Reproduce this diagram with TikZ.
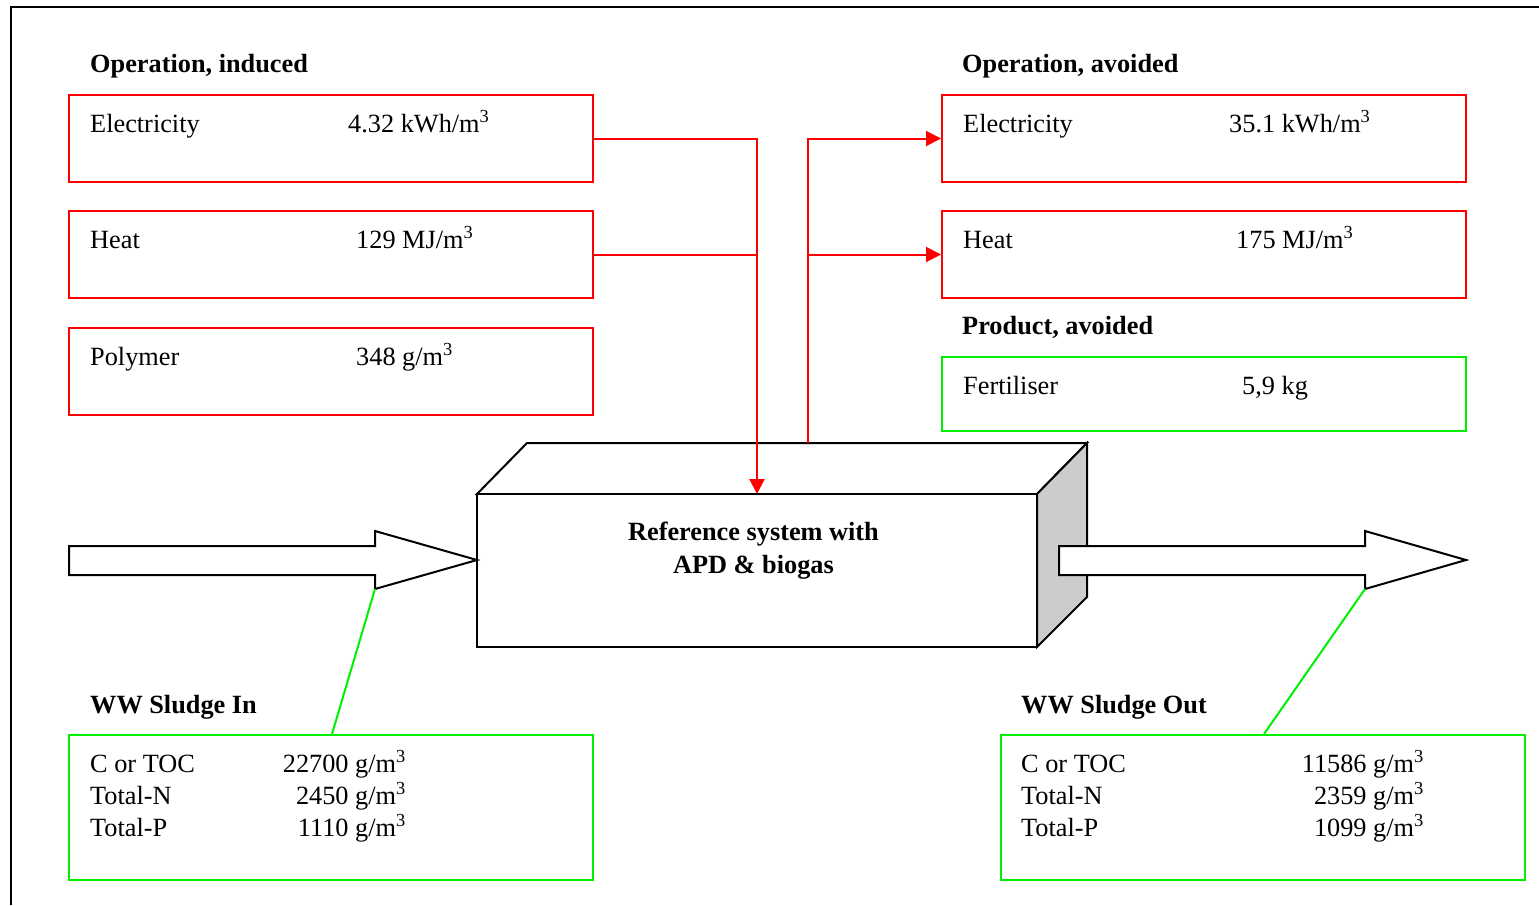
\documentclass[tikz,border=0pt]{standalone}
\usepackage{fontspec}
\setmainfont{Liberation Serif}
\usetikzlibrary{arrows.meta}
\definecolor{pred}{RGB}{255,0,0}
\definecolor{pgreen}{RGB}{0,240,0}
\definecolor{sidegray}{RGB}{204,204,204}
\tikzset{
  txt/.style={font=\fontsize{26.3}{30}\selectfont, inner sep=0pt, anchor=base west},
  txtr/.style={txt, anchor=base east},
  head/.style={txt, font=\fontsize{26.3}{30}\selectfont\bfseries},
  redbox/.style={draw=pred, line width=2pt, minimum width=524pt, minimum height=87pt, inner sep=0pt},
  greenbox/.style={draw=pgreen, line width=2pt, inner sep=0pt},
  redline/.style={draw=pred, line width=2pt},
  redarrow/.style={redline, -{Triangle[length=15pt,width=15pt]}},
  greenline/.style={draw=pgreen, line width=2pt},
  blackline/.style={draw=black, line width=2pt, line join=miter},
}
\begin{document}
\begin{tikzpicture}[x=1pt,y=-1pt]
\useasboundingbox (0,0) rectangle (1539,905);
% outer frame
\draw[line width=2pt] (11,905) -- (11,7) -- (1539,7);

% headings
\node[head] (hInd) at (90,72) {Operation, induced};
\node[head] (hAvo) at (962,72) {Operation, avoided};
\node[head] (hProd) at (962,334) {Product, avoided};
\node[head] (hIn) at (90,713) {WW Sludge In};
\node[head] (hOut) at (1021,713) {WW Sludge Out};

% left red boxes
\node[redbox] (eli) at (331,138.5) {};
\node[redbox] (hei) at (331,254.5) {};
\node[redbox] (pol) at (331,371) {};
\node[txt] (eliL) at (90,132) {Electricity};
\node[txt] (eliV) at (348,132) {4.32 kWh/m\textsuperscript{3}};
\node[txt] (heiL) at (90,248) {Heat};
\node[txt] (heiV) at (356,248) {129 MJ/m\textsuperscript{3}};
\node[txt] (polL) at (90,365) {Polymer};
\node[txt] (polV) at (356,365) {348 g/m\textsuperscript{3}};

% right red boxes
\node[redbox] (elo) at (1204,138.5) {};
\node[redbox] (heo) at (1204,254.5) {};
\node[txt] (eloL) at (963,132) {Electricity};
\node[txt] (eloV) at (1229,132) {35.1 kWh/m\textsuperscript{3}};
\node[txt] (heoL) at (963,248) {Heat};
\node[txt] (heoV) at (1236,248) {175 MJ/m\textsuperscript{3}};

% fertiliser
\node[greenbox, minimum width=524pt, minimum height=74pt] (fer) at (1204,394) {};
\node[txt] (ferL) at (963,394) {Fertiliser};
\node[txt] (ferV) at (1242,394) {5,9 kg};

% sludge in box
\node[greenbox, minimum width=524pt, minimum height=145pt] (sin) at (331,807.5) {};
\node[txt] (sin1) at (90,772) {C or TOC};
\node[txt] (sin2) at (90,804) {Total-N};
\node[txt] (sin3) at (90,836) {Total-P};
\node[txtr] (sin1v) at (406,772) {22700 g/m\textsuperscript{3}};
\node[txtr] (sin2v) at (406,804) {2450 g/m\textsuperscript{3}};
\node[txtr] (sin3v) at (406,836) {1110 g/m\textsuperscript{3}};

% sludge out box
\node[greenbox, minimum width=524pt, minimum height=145pt] (sout) at (1263,807.5) {};
\node[txt] (sout1) at (1021,772) {C or TOC};
\node[txt] (sout2) at (1021,804) {Total-N};
\node[txt] (sout3) at (1021,836) {Total-P};
\node[txtr] (sout1v) at (1424,772) {11586 g/m\textsuperscript{3}};
\node[txtr] (sout2v) at (1424,804) {2359 g/m\textsuperscript{3}};
\node[txtr] (sout3v) at (1424,836) {1099 g/m\textsuperscript{3}};

% 3D box
\filldraw[blackline, fill=white] (477,494) -- (527,443) -- (1087,443) -- (1037,494) -- cycle;
\filldraw[blackline, fill=sidegray] (1037,494) -- (1087,443) -- (1087,597) -- (1037,647) -- cycle;
\node[draw, line width=2pt, fill=white, minimum width=560pt, minimum height=153pt, inner sep=0pt] (sys) at (757,570.5) {};
\node[font=\fontsize{26.3}{33}\selectfont\bfseries, align=center, inner sep=0pt, anchor=base] (sysT) at (753.5,573) {Reference system with\\APD \& biogas};

% connection points
\coordinate (inJ) at (757,494);
\coordinate (outJ) at (808,443);

% red connectors
\draw[redarrow] (eli.east) -| (inJ);
\draw[redline] (hei.east) -- (hei.east -| inJ);
\draw[redarrow] (outJ) |- (elo.west);
\draw[redarrow] (outJ |- heo.west) -- (heo.west);

% block arrows
\coordinate (inTip) at (477,560);
\coordinate (outTip) at (1466,560);
\filldraw[blackline, fill=white] (69,546) -- (375,546) -- (375,531) -- (inTip) -- (375,589) -- (375,575) -- (69,575) -- cycle;
\filldraw[blackline, fill=white] (1059,546) -- (1365,546) -- (1365,531) -- (outTip) -- (1365,589) -- (1365,575) -- (1059,575) -- cycle;

% green leader lines
\coordinate (inBot) at (375,589);
\coordinate (outBot) at (1365,589);
\draw[greenline] (inBot) -- (sin.north -| 332,0);
\draw[greenline] (outBot) -- (sout.north -| 1264,0);
\end{tikzpicture}
\end{document}
